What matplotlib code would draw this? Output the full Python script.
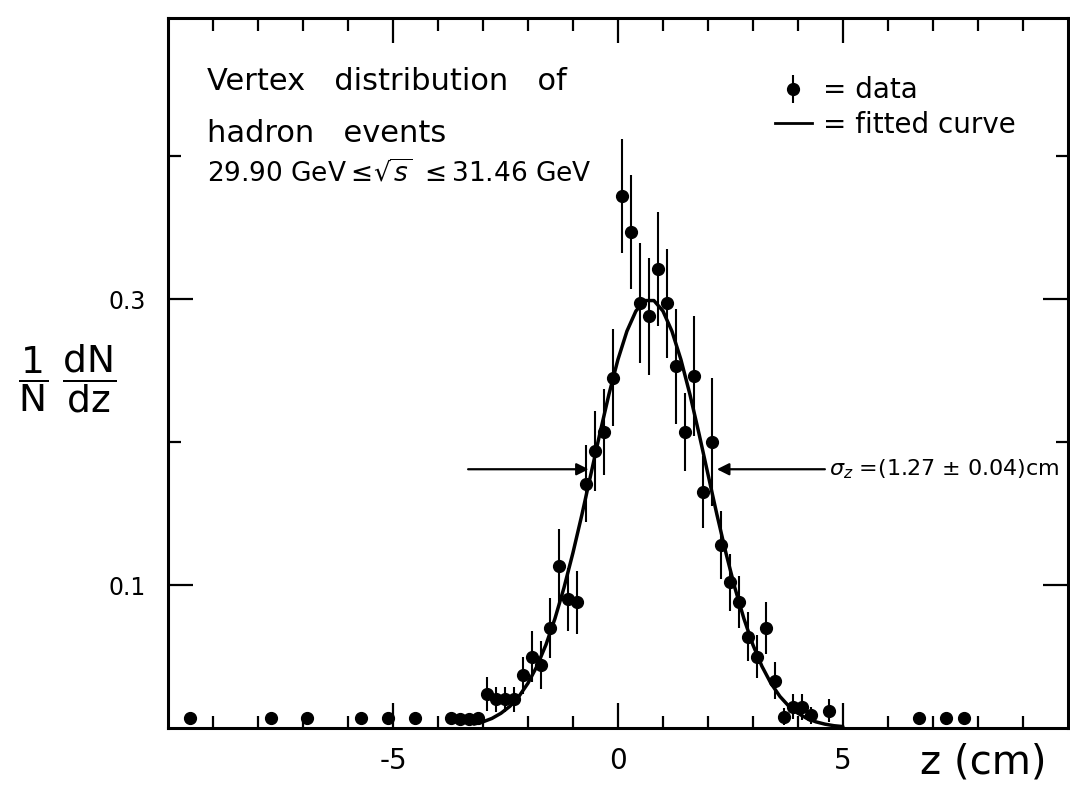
import matplotlib
matplotlib.use("Agg")
import matplotlib.pyplot as plt
from matplotlib.ticker import FixedLocator, FixedFormatter

# ---- data ----
z_data = [-9.5, -7.7, -6.9, -5.7, -5.1, -4.5, -3.7, -3.5, -3.3, -3.1,
          -2.9, -2.7, -2.5, -2.3, -2.1, -1.9, -1.7, -1.5, -1.3, -1.1,
          -0.9, -0.7, -0.5, -0.3, -0.1, 0.1, 0.3, 0.5, 0.7, 0.9,
          1.1, 1.3, 1.5, 1.7, 1.9, 2.1, 2.3, 2.5, 2.7, 2.9,
          3.1, 3.3, 3.5, 3.7, 3.9, 4.1, 4.3, 4.7, 6.7, 7.3, 7.7]
dndz = [0.007, 0.007, 0.007, 0.007, 0.007, 0.007, 0.007, 0.006, 0.006, 0.007,
        0.024, 0.020, 0.020, 0.020, 0.037, 0.050, 0.044, 0.070, 0.113, 0.090,
        0.088, 0.171, 0.194, 0.207, 0.245, 0.372, 0.347, 0.297, 0.288, 0.321,
        0.297, 0.253, 0.207, 0.246, 0.165, 0.200, 0.128, 0.102, 0.088, 0.064,
        0.050, 0.070, 0.033, 0.008, 0.015, 0.0145, 0.009, 0.012, 0.007, 0.007, 0.007]
err = [0.004, 0.004, 0.004, 0.004, 0.004, 0.004, 0.004, 0.004, 0.004, 0.004,
       0.012, 0.009, 0.009, 0.009, 0.013, 0.018, 0.017, 0.021, 0.026, 0.022,
       0.022, 0.027, 0.028, 0.030, 0.034, 0.040, 0.040, 0.042, 0.041, 0.040,
       0.038, 0.040, 0.027, 0.042, 0.025, 0.045, 0.024, 0.020, 0.018, 0.017,
       0.015, 0.018, 0.013, 0.006, 0.009, 0.009, 0.006, 0.008, 0.004, 0.004, 0.004]

# fitted curve
z_fit = [-3.2, -3.0, -2.8, -2.6, -2.4, -2.2, -2.0, -1.8, -1.6, -1.4,
         -1.2, -1.0, -0.8, -0.6, -0.4, -0.2, 0.0, 0.2, 0.4, 0.6,
         0.8, 1.0, 1.2, 1.4, 1.6, 1.8, 2.0, 2.2, 2.4, 2.6,
         2.8, 3.0, 3.2, 3.4, 3.6, 3.8, 4.0, 4.2, 4.4, 4.6, 4.8, 5.0]
fit_val = [0.0027, 0.0043, 0.0067, 0.0103, 0.0152, 0.0221, 0.0313, 0.0432, 0.0582, 0.0765,
           0.098, 0.1225, 0.1493, 0.1777, 0.2062, 0.2334, 0.2577, 0.2776, 0.2917, 0.299,
           0.299, 0.2917, 0.2776, 0.2577, 0.2334, 0.2062, 0.1777, 0.1493, 0.1225, 0.098,
           0.0765, 0.0582, 0.0432, 0.0313, 0.0221, 0.0152, 0.0103, 0.0067, 0.0043, 0.0027, 0.0016, 0.001]

x_major = [-5, 0, 5]
x_major_labels = ["-5", "0", "5"]
x_minor = [-9, -8, -7, -6, -4, -3, -2, -1, 1, 2, 3, 4, 6, 7, 8, 9]
y_major = [0.1, 0.3]
y_major_labels = ["0.1", "0.3"]
y_minor = [0.2, 0.4]

plt.rcParams['font.family'] = ['DejaVu Sans']
plt.rcParams['mathtext.fontset'] = 'dejavusans'

fig = plt.figure(figsize=(10.70, 7.86), dpi=100)
ax = fig.add_axes([0.157, 0.0738, 0.841, 0.903])
ax.set_xlim(-10, 10)
ax.set_ylim(0, 0.4965)

for s in ax.spines.values():
    s.set_linewidth(2.2)

ax.plot(z_fit, fit_val, color='black', lw=2.5, solid_capstyle='round', zorder=2)
eb = ax.errorbar(z_data, dndz, yerr=err, fmt='o', color='black', ms=8.5,
                 elinewidth=1.5, capsize=0, zorder=3)

# ticks
ax.xaxis.set_major_locator(FixedLocator(x_major))
ax.xaxis.set_major_formatter(FixedFormatter(x_major_labels))
ax.xaxis.set_minor_locator(FixedLocator(x_minor))
ax.yaxis.set_major_locator(FixedLocator(y_major))
ax.yaxis.set_major_formatter(FixedFormatter(y_major_labels))
ax.yaxis.set_minor_locator(FixedLocator(y_minor))
ax.tick_params(which='both', direction='in', top=True, right=True, width=1.6)
ax.tick_params(which='major', length=18, pad=16)
ax.tick_params(axis='y', which='major', labelsize=17)
ax.tick_params(axis='x', which='major', labelsize=20, pad=14)
ax.tick_params(which='minor', length=9)

# legend
line_handle, = ax.plot([], [], color='black', lw=2.0)
ax.legend(handles=[eb, line_handle], labels=['= data', '= fitted curve'],
          loc='upper left', bbox_to_anchor=(0.675, 0.918), frameon=False,
          borderaxespad=0, borderpad=0,
          fontsize=20, handlelength=1.3, handletextpad=0.4, labelspacing=0.22)

# annotation texts
ax.text(-9.13, 0.4462, "Vertex   distribution   of", fontsize=22, va='baseline', ha='left')
ax.text(-9.13, 0.4100, "hadron   events", fontsize=22, va='baseline', ha='left')
ax.text(-9.13, 0.3820, r"29.90 GeV$\leq\!\sqrt{s}\ \leq$31.46 GeV", fontsize=19,
        va='baseline', ha='left')

# sigma arrows
ax.annotate("", xy=(-0.65, 0.181), xytext=(-3.33, 0.181),
            arrowprops=dict(arrowstyle='-|>', color='black', lw=1.6,
                            mutation_scale=18, shrinkA=0, shrinkB=0))
ax.annotate("", xy=(2.2, 0.181), xytext=(4.6, 0.181),
            arrowprops=dict(arrowstyle='-|>', color='black', lw=1.6,
                            mutation_scale=18, shrinkA=0, shrinkB=0))
ax.text(4.7, 0.181, r"$\sigma_z$ =(1.27 ± 0.04)cm", fontsize=16, va='center', ha='left')

# axis labels
fig.text(0.063, 0.518, r"$\dfrac{1}{\mathrm{N}}\ \dfrac{\mathrm{dN}}{\mathrm{dz}}$",
         fontsize=27, ha='center', va='center')
fig.text(0.919, 0.030, "z (cm)", fontsize=29, ha='center', va='center')

fig.savefig("out.png", dpi=100)
